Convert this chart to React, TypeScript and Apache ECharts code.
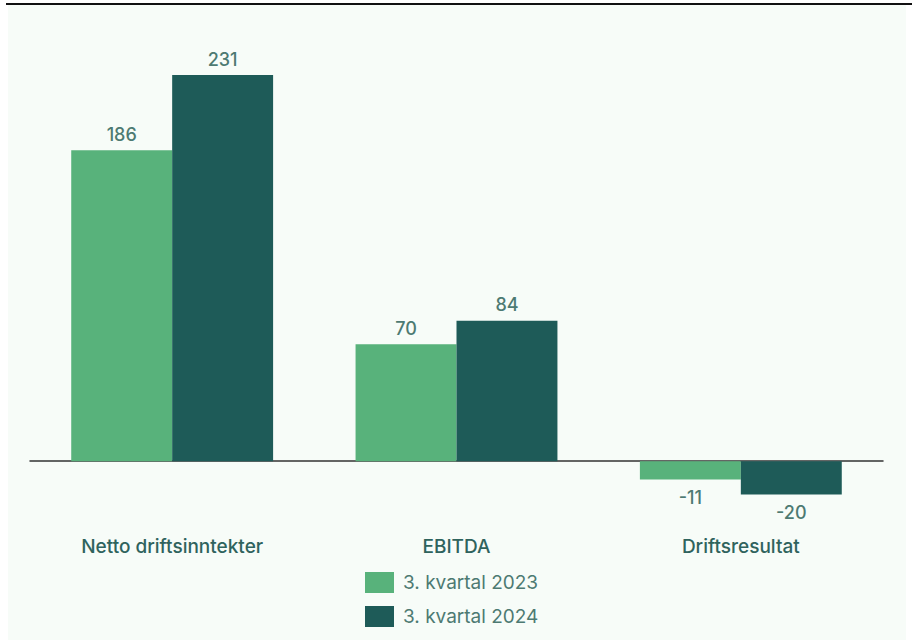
import React, { useEffect, useRef } from "react";
import * as echarts from "echarts";

const categories = ["Netto driftsinntekter", "EBITDA", "Driftsresultat"];
const seriesNames = ["3. kvartal 2023", "3. kvartal 2024"];
const values2023 = [186, 70, -11];
const values2024 = [231, 84, -20];

const FONT = "Inter, 'Open Sans', sans-serif";
const LABEL_COLOR = "#4d7a72";

function toItems(vals: number[]) {
  return vals.map((v) => ({
    value: v,
    label: { position: v < 0 ? "bottom" : "top", distance: v < 0 ? 9 : 7 },
  }));
}

export default function App() {
  const ref = useRef<HTMLDivElement>(null);
  useEffect(() => {
    if (!ref.current) return;
    const chart = echarts.init(ref.current, undefined, { renderer: "svg" });
    const labelCommon = {
      show: true,
      fontFamily: FONT,
      fontSize: 18,
      fontWeight: 500,
      color: LABEL_COLOR,
      distance: 7,
    };
    chart.setOption({
      animation: false,
      backgroundColor: "#ffffff",
      graphic: [
        {
          type: "rect",
          z: -10,
          shape: { x: 8, y: 5, width: 898, height: 635 },
          style: { fill: "#f7fcf8" },
        },
        {
          type: "rect",
          shape: { x: 6, y: 3, width: 906, height: 2 },
          style: { fill: "#111111" },
        },
      ],
      grid: { left: 30, right: 29, top: 60, height: 468, containLabel: false },
      legend: {
        orient: "vertical",
        left: 360,
        top: 567,
        itemWidth: 29,
        itemHeight: 21,
        itemGap: 13,
        icon: "rect",
        data: seriesNames,
        textStyle: { fontFamily: FONT, fontSize: 19, color: LABEL_COLOR, padding: [0, 0, 0, 4] },
      },
      xAxis: {
        type: "category",
        data: categories,
        axisLine: { show: true, onZero: true, lineStyle: { color: "#333333", width: 1.5 } },
        axisTick: { show: false },
        axisLabel: {
          margin: 9,
          fontFamily: FONT,
          fontSize: 19,
          fontWeight: 500,
          color: "#2f635d",
        },
      },
      yAxis: {
        type: "value",
        min: -40,
        max: 240,
        show: false,
        splitLine: { show: false },
      },
      series: [
        {
          name: seriesNames[0],
          type: "bar",
          data: toItems(values2023),
          itemStyle: { color: "#58b27b" },
          barGap: "0%",
          barCategoryGap: "29%",
          label: labelCommon,
        },
        {
          name: seriesNames[1],
          type: "bar",
          data: toItems(values2024),
          itemStyle: { color: "#1e5b58" },
          barGap: "0%",
          barCategoryGap: "29%",
          label: labelCommon,
        },
      ],
    });
    return () => chart.dispose();
  }, []);
  return (
    <div
      ref={ref}
      style={{ position: "fixed", left: 0, top: 0, width: 912, height: 640 }}
    />
  );
}
